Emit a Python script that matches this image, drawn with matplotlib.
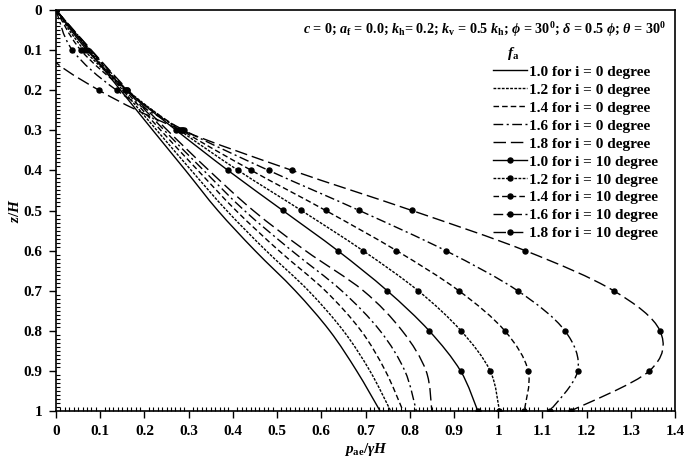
import matplotlib
matplotlib.use("Agg")
import matplotlib.pyplot as plt
from matplotlib.ticker import MultipleLocator, FuncFormatter
from matplotlib.path import Path
from matplotlib.patches import PathPatch
from matplotlib.lines import Line2D

plt.rcParams['font.family'] = ['Liberation Serif', 'DejaVu Serif']
plt.rcParams['font.weight'] = 'bold'
plt.rcParams['mathtext.fontset'] = 'custom'
plt.rcParams['mathtext.rm'] = 'Liberation Serif:bold'
plt.rcParams['mathtext.it'] = 'Liberation Serif:bold:italic'
plt.rcParams['mathtext.bf'] = 'Liberation Serif:bold'

z = [0.0, 0.1, 0.2, 0.3, 0.4, 0.5, 0.6, 0.7, 0.8, 0.9, 1.0]

# i = 0 degree
i0_f10 = [0, 0.073, 0.146, 0.219, 0.293, 0.366, 0.450, 0.541, 0.619, 0.680, 0.733]
i0_f12 = [0, 0.075, 0.151, 0.228, 0.306, 0.386, 0.475, 0.571, 0.650, 0.710, 0.757]
i0_f14 = [0, 0.077, 0.156, 0.237, 0.321, 0.407, 0.504, 0.609, 0.690, 0.745, 0.785]
i0_f16 = [0, 0.079, 0.160, 0.245, 0.334, 0.426, 0.533, 0.646, 0.733, 0.789, 0.815]
i0_f18 = [0, 0.080, 0.163, 0.252, 0.346, 0.446, 0.564, 0.695, 0.783, 0.837, 0.850]

# i = 10 degree
i10_f10 = [0, 0.070, 0.160, 0.272, 0.389, 0.513, 0.637, 0.749, 0.844, 0.915, 0.954]
i10_f12 = [0, 0.064, 0.161, 0.280, 0.412, 0.555, 0.694, 0.819, 0.916, 0.982, 1.003]
i10_f14 = [0, 0.056, 0.157, 0.285, 0.442, 0.610, 0.770, 0.911, 1.015, 1.068, 1.059]
i10_f16 = [0, 0.037, 0.137, 0.290, 0.481, 0.686, 0.881, 1.044, 1.151, 1.180, 1.117]
i10_f18 = [0, -0.025, 0.097, 0.285, 0.534, 0.805, 1.061, 1.261, 1.366, 1.342, 1.164]

labels_fa = ['1.0', '1.2', '1.4', '1.6', '1.8']
styles = ['-', (0, (2, 1)), (0, (4, 2.2)), (0, (7, 2.5, 1.5, 2.5)), (0, (9, 3.5))]


def smooth_path(xs, ys):
    # Excel-style smoothed line: cubic Bezier segments through the data points
    pts = list(zip(xs, ys))
    n = len(pts)
    verts = [pts[0]]
    codes = [Path.MOVETO]
    for i in range(n - 1):
        p0 = pts[i - 1] if i > 0 else pts[i]
        p1 = pts[i]
        p2 = pts[i + 1]
        p3 = pts[i + 2] if i + 2 < n else pts[i + 1]
        c1 = (p1[0] + (p2[0] - p0[0]) / 6.0, p1[1] + (p2[1] - p0[1]) / 6.0)
        c2 = (p2[0] - (p3[0] - p1[0]) / 6.0, p2[1] - (p3[1] - p1[1]) / 6.0)
        verts += [c1, c2, p2]
        codes += [Path.CURVE4, Path.CURVE4, Path.CURVE4]
    return Path(verts, codes)


fig = plt.figure(figsize=(6.85, 4.61), dpi=100)
ax = fig.add_axes([56/685, 1-411/461, (675-56)/685, (411-10)/461])

handles = []
for vals, lab, ls in zip([i0_f10, i0_f12, i0_f14, i0_f16, i0_f18], labels_fa, styles):
    ax.add_patch(PathPatch(smooth_path(vals, z), fill=False, edgecolor='black',
                           lw=1.0, linestyle=ls, transform=ax.transData))
    handles.append(Line2D([], [], color='black', lw=1.0, linestyle=ls,
                          label=f'{lab} for i = 0 degree'))
for vals, lab, ls in zip([i10_f10, i10_f12, i10_f14, i10_f16, i10_f18], labels_fa, styles):
    ax.add_patch(PathPatch(smooth_path(vals, z), fill=False, edgecolor='black',
                           lw=1.0, linestyle=ls, transform=ax.transData))
    ax.plot(vals, z, linestyle='none', marker='o', markersize=3.6, color='black')
    handles.append(Line2D([], [], color='black', lw=1.0, linestyle=ls, marker='o',
                          markersize=3.6, label=f'{lab} for i = 10 degree'))

ax.set_xlim(0, 1.4)
ax.set_ylim(1, 0)
ax.xaxis.set_major_locator(MultipleLocator(0.1))
ax.xaxis.set_minor_locator(MultipleLocator(0.01))
ax.yaxis.set_major_locator(MultipleLocator(0.1))
ax.yaxis.set_minor_locator(MultipleLocator(0.01))
fmt = FuncFormatter(lambda v, p: ('%.1f' % v).rstrip('0').rstrip('.') if abs(v) > 1e-9 else '0')
ax.xaxis.set_major_formatter(fmt)
ax.yaxis.set_major_formatter(fmt)
ax.tick_params(which='major', direction='out', length=5, width=1, labelsize=11, pad=5)
ax.tick_params(which='minor', direction='in', length=3, width=0.8)
for lab in ax.get_xticklabels() + ax.get_yticklabels():
    lab.set_fontweight('bold')
for s in ax.spines.values():
    s.set_linewidth(1.2)

ax.set_xlabel(r'$p_{\rm ae}/\gamma H$', fontsize=11, labelpad=2)
ax.set_ylabel(r'$z/H$', fontsize=11)
ax.yaxis.set_label_coords(-(56-22)/619, 0.5)

ax.text(0.985, 1-(30-10)/401,
        r'$c$ = 0; $a_{\rm f}$ = 0.0; $k_{\rm h}$= 0.2; $k_{\rm v}$ = 0.5 $k_{\rm h}$; $\phi$ = 30$^0$; $\delta$ = 0.5 $\phi$; $\theta$ = 30$^0$',
        transform=ax.transAxes, ha='right', va='center', fontsize=10.2)
ax.text((513-56)/619, 1-(53-10)/401, r'$f_{\rm a}$', transform=ax.transAxes,
        ha='center', va='center', fontsize=11)

leg = ax.legend(handles=handles, loc='upper left',
                bbox_to_anchor=((493-56)/619, 1-(65-10)/401), frameon=False,
                fontsize=11, handlelength=2.2, handletextpad=0.15, labelspacing=0.28,
                borderpad=0.0, borderaxespad=0.0)

fig.savefig('out.png', dpi=100)
